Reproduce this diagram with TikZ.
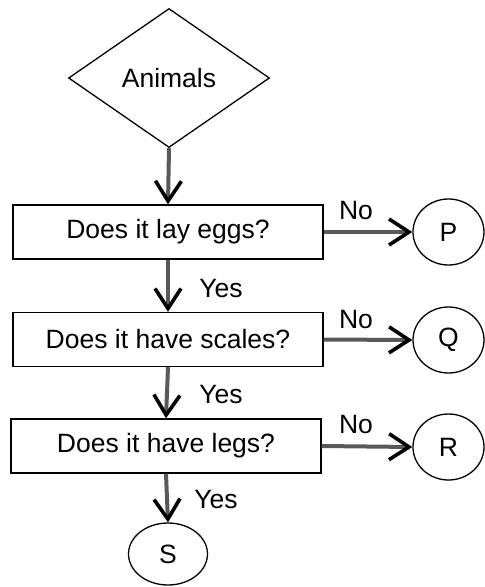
\documentclass[tikz,border=0pt]{standalone}
\usepackage{fontspec}
\setmainfont{Liberation Sans}
\usetikzlibrary{shapes.geometric,arrows.meta}
\tikzset{
  txt/.style={font=\fontsize{26.5}{30}\selectfont, inner sep=0pt},
  qbox/.style={draw, line width=1.4pt, rectangle, minimum width=310pt, minimum height=54pt, txt},
  endo/.style={draw, line width=1.3pt, ellipse, minimum width=71pt, minimum height=66pt, txt},
  arr/.style={draw=black!65, line width=4pt,
    -{Straight Barb[length=20pt,width=26pt,line width=3.6pt,color=black]}},
}
\begin{document}
\begin{tikzpicture}[x=1pt,y=-1pt]
\useasboundingbox (0,0) rectangle (485,587);
\node[draw, diamond, line width=1.3pt, minimum width=201pt, minimum height=139pt, txt] (dia) at (169,78) {Animals};
\node[qbox] (b1) at (168,232) {Does it lay eggs?};
\node[qbox] (b2) at (168,339.5) {Does it have scales?};
\node[qbox] (b3) at (166,446) {Does it have legs?};
\node[endo] (P) at (448.5,232) {P};
\node[endo] (Q) at (448.5,340) {Q};
\node[endo] (R) at (448.5,447) {R};
\node[endo, minimum width=79pt, minimum height=62pt] (S) at (168,554) {S};
\draw[arr] (dia.south) -- (b1.north);
\draw[arr] (b1.south) -- (b2.north);
\draw[arr] (b2.south) -- (b3.north);
\draw[arr] (b3.south) -- (S.north);
\draw[arr] (b1.east) -- (P.west);
\draw[arr] (b2.east) -- (Q.west);
\draw[arr] (b3.east) -- (R.west);
\node[txt] (n1) at (356,211) {No};
\node[txt] (n2) at (356,320) {No};
\node[txt] (n3) at (356,425) {No};
\node[txt] (y1) at (221,289) {Yes};
\node[txt] (y2) at (221,395) {Yes};
\node[txt] (y3) at (216,500) {Yes};
\end{tikzpicture}
\end{document}
